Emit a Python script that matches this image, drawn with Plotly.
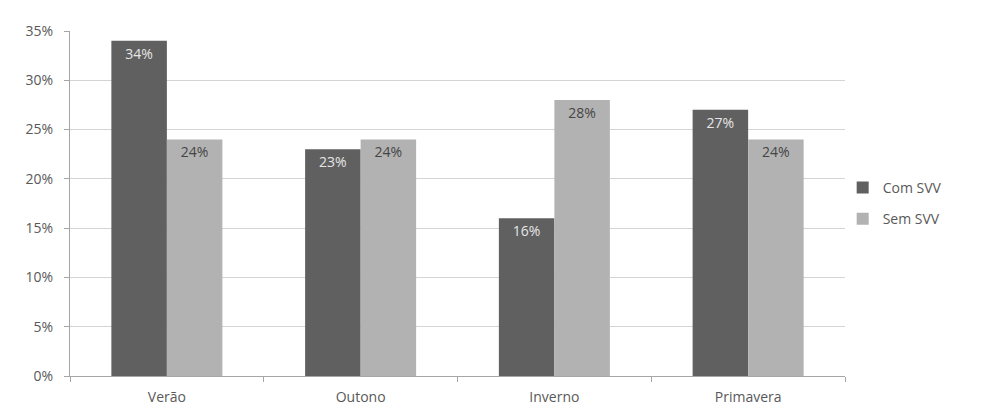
import plotly.graph_objects as go

categories = ["Verão", "Outono", "Inverno", "Primavera"]
com_svv = [34, 23, 16, 27]
sem_svv = [24, 24, 28, 24]
series_names = ["Com SVV", "Sem SVV"]
tick_vals = [0, 5, 10, 15, 20, 25, 30, 35]
tick_text = [f"{v}%" for v in tick_vals]

FONT = "Open Sans, Lato, sans-serif"

fig = go.Figure()
fig.add_trace(go.Bar(
    x=categories, y=com_svv, name=series_names[0], legendgroup="a",
    marker=dict(color="#606060", line=dict(width=0)),
    text=[f"{v}%" for v in com_svv], textposition="inside",
    insidetextanchor="end", textangle=0,
    textfont=dict(color="#e6e6e6", size=14, family=FONT),
))
fig.add_trace(go.Bar(
    x=categories, y=sem_svv, name=series_names[1], legendgroup="b",
    marker=dict(color="#b2b2b2", line=dict(width=0)),
    text=[f"{v}%" for v in sem_svv], textposition="inside",
    insidetextanchor="end", textangle=0,
    textfont=dict(color="#454545", size=14, family=FONT),
))

fig.update_layout(
    width=981, height=414,
    margin=dict(l=70, r=136, t=31, b=38),
    paper_bgcolor="white", plot_bgcolor="white",
    barmode="group", bargap=0.427, bargroupgap=0,
    font=dict(family=FONT, size=14, color="#595959"),
    legend=dict(x=0.997, y=0.5, xanchor="left", yanchor="middle",
                font=dict(size=14, color="#595959"),
                traceorder="grouped", tracegroupgap=10,
                itemwidth=30,
                bgcolor="rgba(0,0,0,0)"),
    showlegend=True,
)
fig.update_yaxes(
    range=[0, 35], tickvals=tick_vals, ticktext=tick_text,
    showgrid=True, gridcolor="#d4d4d4", gridwidth=1,
    showline=True, linecolor="#a6a6a6", linewidth=1,
    ticks="outside", ticklen=5, tickcolor="#a6a6a6",
    ticklabelstandoff=8, automargin=False,
    zeroline=False, tickfont=dict(size=14, color="#595959"),
)
fig.update_xaxes(
    showline=True, linecolor="#a6a6a6", linewidth=1,
    ticks="outside", ticklen=5, tickcolor="#a6a6a6",
    tickson="boundaries", showgrid=False, ticklabelstandoff=8,
    automargin=False,
    tickfont=dict(size=14, color="#595959"),
)

fig.write_html("out.html")
